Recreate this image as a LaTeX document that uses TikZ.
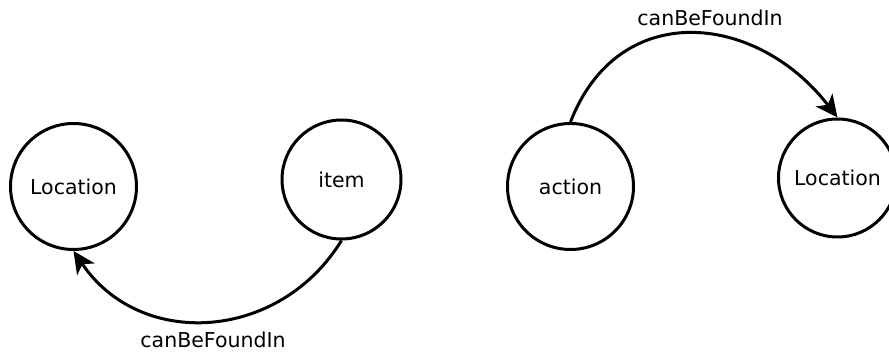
\documentclass[tikz,border=0pt]{standalone}
\usepackage{fontspec}
\setmainfont{DejaVu Sans}
\usetikzlibrary{arrows.meta}
\begin{document}
\begin{tikzpicture}[x=1pt,y=-1pt,
  concept/.style={circle,draw,line width=3pt,inner sep=0pt,font=\fontsize{20.5}{24}\selectfont},
  relation/.style={line width=3pt,-{Stealth[length=22pt,width=21pt,inset=6pt]}},
  rellabel/.style={font=\fontsize{20.5}{24}\selectfont}]
  \useasboundingbox[clip] (0,0) rectangle (889,352);

  % left pair: item -> Location
  \node[concept,minimum size=126pt] (loc1) at (73.5,186.5) {Location};
  \node[concept,minimum size=119pt] (item) at (341.5,179.5) {item};
  \draw[relation] (item.south) .. controls +(-62,101) and +(67,99) .. (loc1.south);
  \node[rellabel] (lab1) at (213,340) {canBeFoundIn};

  % right pair: action -> Location
  \node[concept,minimum size=126pt] (act) at (570.5,186.5) {action};
  \node[concept,minimum size=118pt] (loc2) at (837.5,178) {Location};
  \draw[relation] (act.north) .. controls +(48,-124) and +(-81,-105) .. (loc2.north);
  \node[rellabel] (lab2) at (710,18) {canBeFoundIn};
\end{tikzpicture}
\end{document}
